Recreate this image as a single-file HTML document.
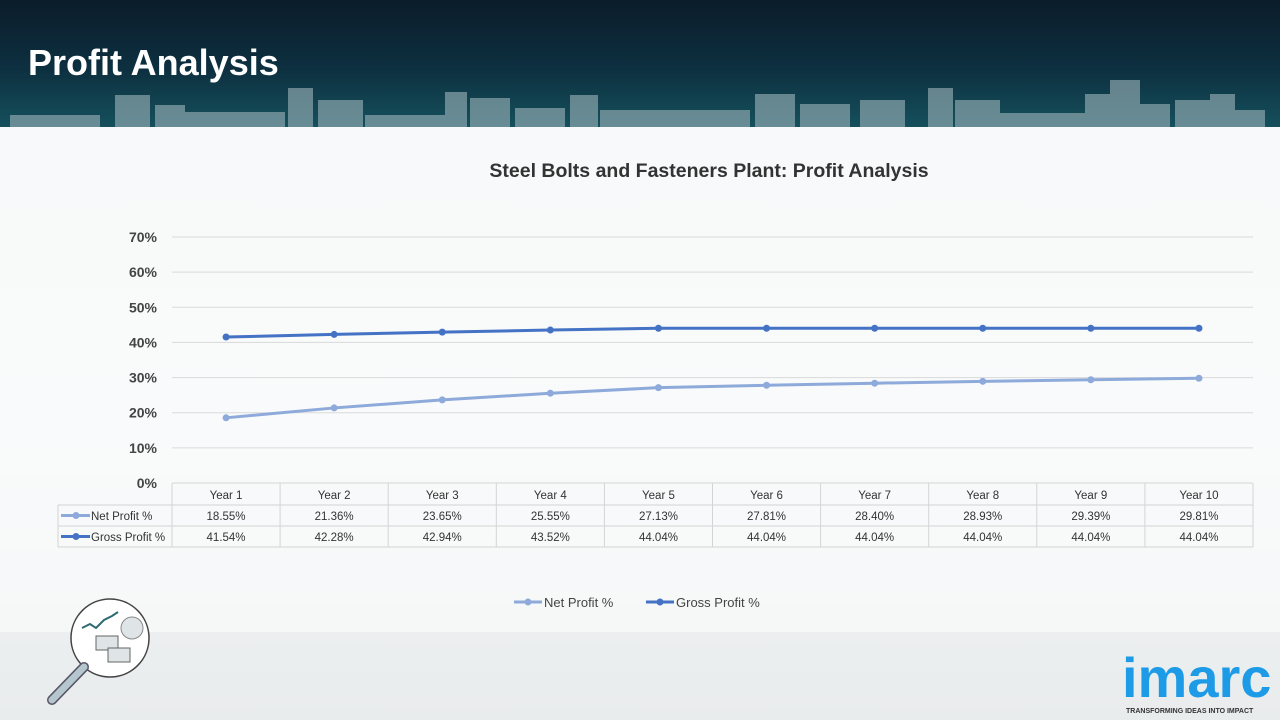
<!DOCTYPE html>
<html><head><meta charset="utf-8"><style>
html,body{margin:0;padding:0;}
body{width:1280px;height:720px;overflow:hidden;position:relative;font-family:"Liberation Sans",sans-serif;background:linear-gradient(180deg,#eef1f2 0%,#f2f4f5 60%,#e9eced 100%);}
#header{position:absolute;left:0;top:0;width:1280px;height:127px;background:linear-gradient(180deg,#0b1c2a 0%,#0d3040 55%,#15505c 100%);}
#title{position:absolute;left:28px;top:42px;color:#fff;font-size:36px;font-weight:bold;}
</style></head><body>
<div id="header">
<svg width="1280" height="127" style="position:absolute;left:0;top:0">
<g fill="#9fb6bc" opacity="0.6">
<rect x="10" y="115" width="90" height="12"/><rect x="115" y="95" width="35" height="32"/><rect x="155" y="105" width="30" height="22"/>
<rect x="185" y="112" width="100" height="15"/><rect x="288" y="88" width="25" height="39"/><rect x="318" y="100" width="45" height="27"/>
<rect x="365" y="115" width="80" height="12"/><rect x="445" y="92" width="22" height="35"/><rect x="470" y="98" width="40" height="29"/>
<rect x="515" y="108" width="50" height="19"/><rect x="570" y="95" width="28" height="32"/><rect x="600" y="110" width="150" height="17"/>
<rect x="755" y="94" width="40" height="33"/><rect x="800" y="104" width="50" height="23"/><rect x="860" y="100" width="45" height="27"/>
<rect x="928" y="88" width="25" height="39"/><rect x="955" y="100" width="45" height="27"/><rect x="1000" y="113" width="85" height="14"/>
<rect x="1085" y="94" width="25" height="33"/><rect x="1110" y="80" width="30" height="47"/><rect x="1140" y="104" width="30" height="23"/>
<rect x="1175" y="100" width="35" height="27"/><rect x="1210" y="94" width="25" height="33"/><rect x="1235" y="110" width="30" height="17"/>
</g></svg>
<div id="title">Profit Analysis</div>
</div>
<div style="position:absolute;left:0;top:127px;width:1280px;height:505px;background:rgba(255,255,255,0.55)"></div>
<svg id="chart" width="1280" height="720" style="position:absolute;left:0;top:0" font-family="Liberation Sans, sans-serif"></svg>
<svg width="160" height="120" style="position:absolute;left:40px;top:598px">
<circle cx="70" cy="40" r="39" fill="#fff" stroke="#444" stroke-width="1.5"/>
<line x1="44" y1="69" x2="12" y2="102" stroke="#556" stroke-width="10" stroke-linecap="round"/>
<line x1="44" y1="69" x2="12" y2="102" stroke="#b5c6cf" stroke-width="7" stroke-linecap="round"/>
<polyline points="42,30 50,26 56,30 64,22 72,18 78,14" fill="none" stroke="#2e6a74" stroke-width="2"/>
<circle cx="92" cy="30" r="11" fill="#dfe4e6" stroke="#888"/>
<rect x="56" y="38" width="22" height="14" fill="#dfe4e6" stroke="#666"/><rect x="68" y="50" width="22" height="14" fill="#dfe4e6" stroke="#666"/>
</svg>
<div style="position:absolute;left:1122px;top:650px;color:#1e9be6;font-size:56px;font-weight:bold;letter-spacing:0px;line-height:56px">imarc</div>
<div style="position:absolute;left:1126px;top:708px;color:#333;font-size:7px;font-weight:bold">TRANSFORMING IDEAS INTO IMPACT</div>
<script>
const categories=["Year 1","Year 2","Year 3","Year 4","Year 5","Year 6","Year 7","Year 8","Year 9","Year 10"];
const netProfit=[18.55,21.36,23.65,25.55,27.13,27.81,28.40,28.93,29.39,29.81];
const grossProfit=[41.54,42.28,42.94,43.52,44.04,44.04,44.04,44.04,44.04,44.04];
const yTicks=[0,10,20,30,40,50,60,70];
const seriesNames=["Net Profit %","Gross Profit %"];
const NS="http://www.w3.org/2000/svg";
const svg=document.getElementById('chart');
const L=172,R=1253,T=237,B=483,cw=(R-L)/categories.length;
const x=i=>L+cw*(i+0.5);
const y=v=>B-(v/70)*(B-T);
function mk(t,a,txt){const e=document.createElementNS(NS,t);for(const k in a)e.setAttribute(k,a[k]);if(txt!==undefined)e.textContent=txt;svg.appendChild(e);return e;}
let e=mk('text',{x:709,y:177,'text-anchor':'middle','font-size':19.5,'font-weight':'bold',fill:'#333'},'Steel Bolts and Fasteners Plant: Profit Analysis');


yTicks.forEach(t=>{
 if(t>0){const g=mk('line',{x1:L,x2:R,y1:y(t),y2:y(t),stroke:'#d9d9d9','stroke-width':1});
 
 }
 const l=mk('text',{x:157,y:y(t)+5,'text-anchor':'end','font-size':14,'font-weight':'bold',fill:'#444'},t+'%');
 
 
});
const tl=[{x1:L,x2:R,y:B},{x1:58,x2:R,y:505},{x1:58,x2:R,y:526},{x1:58,x2:R,y:547}];
tl.forEach(r=>{const l=mk('line',{x1:r.x1,x2:r.x2,y1:r.y,y2:r.y,stroke:'#d4d4d4'});});
mk('line',{x1:58,x2:58,y1:505,y2:547,stroke:'#d4d4d4'});
for(let i=0;i<=categories.length;i++){const l=mk('line',{x1:L+cw*i,x2:L+cw*i,y1:B,y2:547,stroke:'#d4d4d4'});}
const colors=['#8eaadb','#4472c4'];
const data=[netProfit,grossProfit];
categories.forEach((c,i)=>{
 const t=mk('text',{x:x(i),y:499,'text-anchor':'middle','font-size':11.5,fill:'#333'},c);
 
 
 data.forEach((d,s)=>{const v=mk('text',{x:x(i),y:520+s*21,'text-anchor':'middle','font-size':11.5,fill:'#333'},d[i].toFixed(2)+'%');
 
 });
});
seriesNames.forEach((n,s)=>{
 const yy=515.5+s*21;
 mk('line',{x1:61,x2:90,y1:yy,y2:yy,stroke:colors[s],'stroke-width':3});
 mk('circle',{cx:76,cy:yy,r:3.5,fill:colors[s]});
 const t=mk('text',{x:91,y:yy+4.5,'font-size':11.5,fill:'#333'},n);
 
 
});
data.forEach((d,s)=>{
 const p=mk('polyline',{points:d.map((v,i)=>x(i)+','+y(v)).join(' '),fill:'none',stroke:colors[s],'stroke-width':3});
 
 
 d.forEach((v,i)=>{const c=mk('circle',{cx:x(i),cy:y(v),r:3.5,fill:colors[s]});
 
 });
});
const lx=[514,646];
seriesNames.forEach((n,s)=>{
 mk('line',{x1:lx[s],x2:lx[s]+28,y1:602,y2:602,stroke:colors[s],'stroke-width':3});
 mk('circle',{cx:lx[s]+14,cy:602,r:3.5,fill:colors[s]});
 const t=mk('text',{x:lx[s]+30,y:607,'font-size':13,fill:'#444'},n);
 
 
});
</script>
</body></html>
